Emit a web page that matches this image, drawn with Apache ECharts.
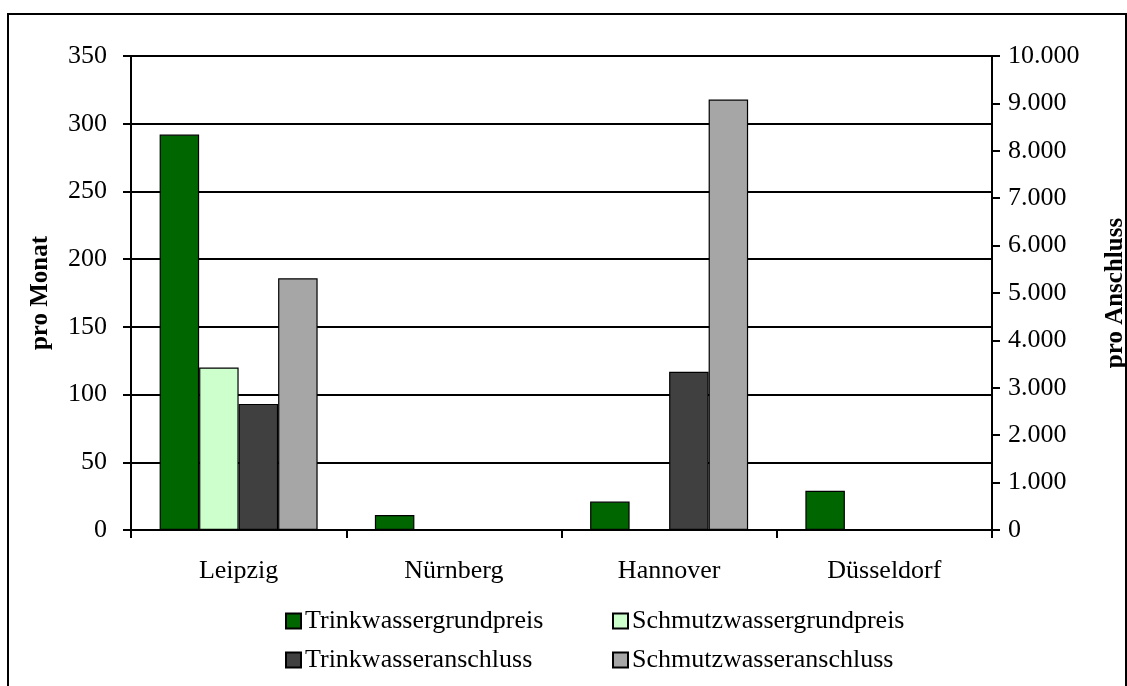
<!DOCTYPE html>
<html>
<head>
<meta charset="utf-8">
<script src="https://cdn.jsdelivr.net/npm/echarts@6/dist/echarts.min.js"></script>
<style>
html,body{margin:0;padding:0;background:#fff;}
#chart{width:1127px;height:686px;}
</style>
</head>
<body>
<div id="chart"></div>
<script>
var categories = ['Leipzig', 'Nürnberg', 'Hannover', 'Düsseldorf'];
var trinkGrundpreis = [292, 11, 21, 29];
var schmutzGrundpreis = [120, null, null, null];
var trinkAnschluss = [2660, null, 3340, null];
var schmutzAnschluss = [5310, null, 9080, null];
var seriesNames = ['Trinkwassergrundpreis', 'Schmutzwassergrundpreis', 'Trinkwasseranschluss', 'Schmutzwasseranschluss'];
var leftAxisTitle = 'pro Monat';
var rightAxisTitle = 'pro Anschluss';

var FONT = "'Liberation Serif', 'Times New Roman', serif";
var colors = ['#006600', '#ccffcc', '#404040', '#a6a6a6'];

function deFormat(v) {
  return String(v).replace(/\B(?=(\d{3})+(?!\d))/g, '.');
}

var chart = echarts.init(document.getElementById('chart'), null, {renderer: 'canvas'});

function mkBar(i, data, yIdx) {
  return {
    name: seriesNames[i],
    type: 'bar',
    yAxisIndex: yIdx,
    data: data,
    barWidth: 39.5,
    barGap: '0%',
    itemStyle: {color: colors[i], borderColor: '#000', borderWidth: 1.2},
    emphasis: {disabled: true}
  };
}

function mkLegend(i, left, top) {
  return {
    data: [seriesNames[i]],
    left: left,
    top: top,
    padding: 0,
    itemWidth: 15,
    itemHeight: 15,
    itemGap: 4,
    icon: 'rect',
    selectedMode: false,
    textStyle: {fontFamily: FONT, fontSize: 26, color: '#000', padding: [0, 0, 0, -1]}
  };
}

var option = {
  animation: false,
  backgroundColor: '#fff',
  grid: {left: 131, right: 135, top: 56, bottom: 156, containLabel: false, outerBoundsMode: 'none'},
  legend: [
    mkLegend(0, 285, 608),
    mkLegend(1, 612, 608),
    mkLegend(2, 285, 647),
    mkLegend(3, 612, 647)
  ],
  xAxis: {
    type: 'category',
    data: categories,
    boundaryGap: true,
    axisLine: {lineStyle: {color: '#000', width: 2}},
    axisTick: {show: true, alignWithLabel: false, length: 8, lineStyle: {color: '#000', width: 2}},
    axisLabel: {fontFamily: FONT, fontSize: 26, color: '#000', margin: 28}
  },
  yAxis: [
    {
      type: 'value',
      min: 0, max: 350, interval: 50,
      position: 'left',
      name: leftAxisTitle,
      nameLocation: 'middle',
      nameRotate: 90,
      nameGap: 78,
      nameTextStyle: {fontFamily: FONT, fontSize: 25, fontWeight: 'bold', color: '#000'},
      axisLine: {show: true, lineStyle: {color: '#000', width: 2}},
      axisTick: {show: true, length: 8, lineStyle: {color: '#000', width: 2}},
      axisLabel: {fontFamily: FONT, fontSize: 26, color: '#000', margin: 24},
      splitLine: {show: true, lineStyle: {color: '#000', width: 2}}
    },
    {
      type: 'value',
      min: 0, max: 10000, interval: 1000,
      position: 'right',
      name: rightAxisTitle,
      nameLocation: 'middle',
      nameRotate: 90,
      nameGap: 111,
      nameTextStyle: {fontFamily: FONT, fontSize: 25, fontWeight: 'bold', color: '#000'},
      axisLine: {show: true, lineStyle: {color: '#000', width: 2}},
      axisTick: {show: true, length: 8, lineStyle: {color: '#000', width: 2}},
      axisLabel: {fontFamily: FONT, fontSize: 26, color: '#000', margin: 16, formatter: deFormat},
      splitLine: {show: false}
    }
  ],
  series: [
    mkBar(0, trinkGrundpreis, 0),
    mkBar(1, schmutzGrundpreis, 0),
    mkBar(2, trinkAnschluss, 1),
    mkBar(3, schmutzAnschluss, 1)
  ],
  graphic: [
    {
      type: 'rect',
      shape: {x: 8, y: 14, width: 1118, height: 700},
      style: {fill: 'none', stroke: '#000', lineWidth: 2},
      silent: true,
      z: -1
    }
  ]
};

chart.setOption(option);
</script>
</body>
</html>
